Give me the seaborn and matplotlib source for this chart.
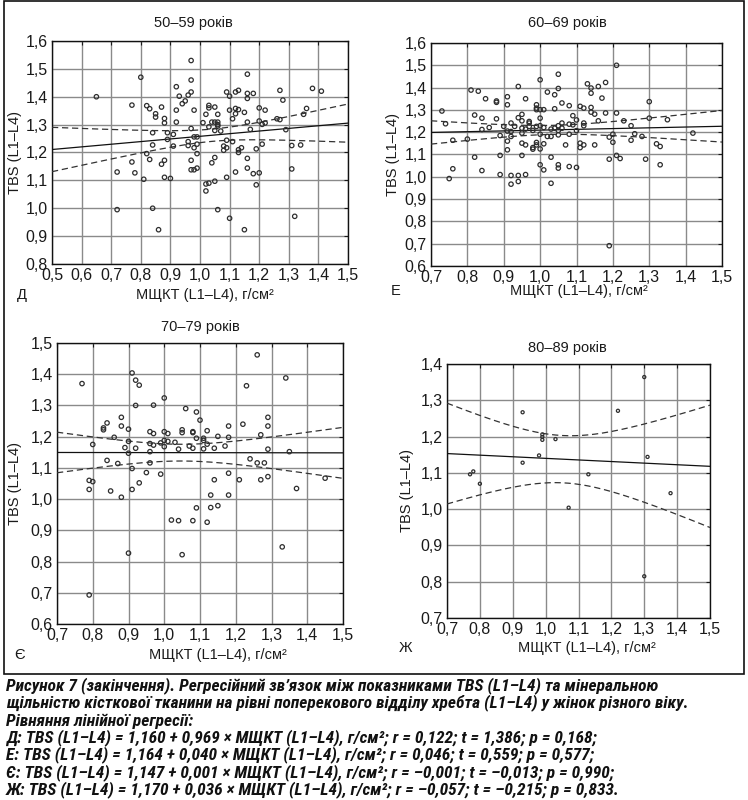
import numpy as np
import pandas as pd
import matplotlib
matplotlib.use("Agg")
import matplotlib.pyplot as plt
import seaborn as sns
from matplotlib.patches import Rectangle
from matplotlib.ticker import FuncFormatter, MultipleLocator

# ---------------- data ----------------
titles = ["50–59 років", "60–69 років", "70–79 років", "80–89 років"]
letters = ["Д", "Е", "Є", "Ж"]
xlabel = "МЩКТ (L1–L4), г/см²"
ylabel = "TBS (L1–L4)"

d_x = [0.65, 0.80, 0.77, 0.72, 0.72, 0.77, 0.78, 0.81, 0.82, 0.83, 0.85, 0.85, 0.84, 0.84, 0.82, 0.83,
       0.84, 0.86, 0.87, 0.88, 0.88, 0.87, 0.88, 0.88, 0.89, 0.89, 0.90, 0.91, 0.91, 0.92, 0.92, 0.92,
       0.93, 0.94, 0.95, 0.96, 0.97, 0.97, 0.97, 0.97, 0.96, 0.96, 0.97, 0.97, 0.98, 0.98, 0.98, 0.99,
       0.98, 0.99, 0.99, 0.99, 1.01, 1.02, 1.03, 1.03, 1.03, 1.04, 1.02, 1.03, 1.02, 1.04, 1.05, 1.05,
       1.05, 1.05, 1.05, 1.06, 1.06, 1.06, 1.06, 1.07, 1.06, 1.08, 1.08, 1.09, 1.09, 1.09, 1.09, 1.10,
       1.10, 1.11, 1.11, 1.10, 1.12, 1.13, 1.12, 1.13, 1.12, 1.13, 1.13, 1.14, 1.12, 1.15, 1.16, 1.16,
       1.16, 1.15, 1.16, 1.17, 1.16, 1.16, 1.18, 1.18, 1.19, 1.19, 1.20, 1.20, 1.20, 1.21, 1.21, 1.22,
       1.22, 1.26, 1.27, 1.27, 1.28, 1.29, 1.31, 1.31, 1.32, 1.34, 1.35, 1.36, 1.38, 1.41]
d_y = [1.400, 1.470, 1.370, 1.130, 0.995, 1.166, 1.127, 1.104, 1.368, 1.357, 1.339, 1.327, 1.271, 1.227, 1.196, 1.175,
       1.000, 0.923, 1.363, 1.322, 1.306, 1.158, 1.172, 1.111, 1.271, 1.247, 1.107, 1.265, 1.223, 1.436, 1.352, 1.309,
       1.402, 1.375, 1.385, 1.406, 1.417, 1.460, 1.530, 1.286, 1.239, 1.225, 1.172, 1.138, 1.138, 1.352, 1.256, 1.256,
       1.217, 1.230, 1.196, 1.144, 1.307, 1.337, 1.369, 1.360, 1.292, 1.309, 1.087, 1.090, 1.062, 1.163, 1.182, 1.097,
       1.363, 1.309, 1.279, 1.309, 1.337, 1.300, 1.295, 1.277, 0.995, 1.223, 1.208, 1.244, 1.217, 1.111, 1.417, 1.402,
       1.352, 1.321, 1.239, 0.964, 1.417, 1.423, 1.358, 1.354, 1.339, 1.210, 1.200, 1.217, 1.130, 0.923, 1.481, 1.412,
       1.394, 1.344, 1.309, 1.283, 1.179, 1.144, 1.412, 1.124, 1.213, 1.084, 1.360, 1.313, 1.127, 1.301, 1.230, 1.352,
       1.306, 1.321, 1.423, 1.318, 1.388, 1.282, 1.225, 1.141, 0.971, 1.227, 1.337, 1.358, 1.430, 1.420]

e_x = [0.73, 0.74, 0.76, 0.76, 0.75, 0.80, 0.81, 0.83, 0.82, 0.82, 0.84, 0.84, 0.84, 0.86, 0.85, 0.88,
       0.88, 0.88, 0.89, 0.89, 0.89, 0.90, 0.91, 0.91, 0.91, 0.91, 0.91, 0.92, 0.92, 0.92, 0.92, 0.92,
       0.93, 0.94, 0.94, 0.94, 0.94, 0.95, 0.95, 0.95, 0.95, 0.95, 0.95, 0.96, 0.96, 0.96, 0.96, 0.97,
       0.97, 0.97, 0.98, 0.98, 0.98, 0.99, 0.99, 0.99, 0.99, 0.99, 0.99, 1.00, 1.00, 1.00, 1.00, 1.00,
       1.00, 1.00, 1.01, 1.01, 1.01, 1.01, 1.02, 1.02, 1.03, 1.03, 1.03, 1.03, 1.04, 1.04, 1.04, 1.05,
       1.05, 1.05, 1.05, 1.05, 1.05, 1.05, 1.06, 1.06, 1.06, 1.07, 1.08, 1.08, 1.08, 1.08, 1.09, 1.09,
       1.10, 1.10, 1.10, 1.11, 1.11, 1.11, 1.12, 1.12, 1.12, 1.12, 1.13, 1.14, 1.14, 1.14, 1.14, 1.15,
       1.15, 1.16, 1.16, 1.17, 1.18, 1.18, 1.19, 1.19, 1.19, 1.20, 1.20, 1.21, 1.21, 1.21, 1.22, 1.23,
       1.25, 1.25, 1.26, 1.28, 1.29, 1.30, 1.30, 1.32, 1.33, 1.33, 1.35, 1.42]
e_y = [1.295, 1.238, 1.164, 1.036, 0.992, 1.169, 1.389, 1.384, 1.277, 1.088, 1.263, 1.212, 1.028, 1.221, 1.350, 1.340,
       1.334, 1.260, 1.185, 1.096, 1.010, 1.226, 1.359, 1.323, 1.205, 1.160, 1.121, 1.241, 1.203, 1.181, 1.006, 0.967,
       1.226, 1.405, 1.265, 1.006, 0.979, 1.280, 1.251, 1.218, 1.196, 1.151, 1.096, 1.350, 1.214, 1.143, 1.010, 1.248,
       1.241, 1.226, 1.124, 1.131, 1.208, 1.323, 1.308, 1.301, 1.226, 1.154, 1.143, 1.435, 1.263, 1.229, 1.191, 1.125,
       1.054, 1.301, 1.301, 1.221, 1.148, 1.031, 1.380, 1.181, 1.181, 1.214, 1.088, 0.971, 1.368, 1.305, 1.218, 1.460,
       1.396, 1.229, 1.208, 1.188, 1.054, 1.039, 1.331, 1.241, 1.218, 1.143, 1.319, 1.236, 1.191, 1.046, 1.274, 1.233,
       1.255, 1.207, 1.042, 1.316, 1.151, 1.131, 1.308, 1.241, 1.229, 1.143, 1.417, 1.398, 1.375, 1.311, 1.290, 1.281,
       1.143, 1.405, 1.251, 1.353, 1.423, 1.286, 1.178, 1.079, 0.691, 1.191, 1.155, 1.500, 1.286, 1.096, 1.082, 1.251,
       1.229, 1.164, 1.193, 1.181, 1.079, 1.337, 1.263, 1.148, 1.136, 1.054, 1.256, 1.196]

c_x = [0.77, 0.79, 0.79, 0.79, 0.80, 0.80, 0.83, 0.83, 0.84, 0.84, 0.86, 0.87, 0.85, 0.88, 0.88, 0.88,
       0.89, 0.90, 0.90, 0.90, 0.90, 0.91, 0.92, 0.93, 0.92, 0.92, 0.91, 0.91, 0.93, 0.95, 0.96, 0.96,
       0.96, 0.96, 0.97, 0.97, 0.97, 0.99, 0.99, 1.00, 1.00, 1.00, 1.00, 1.01, 1.01, 1.02, 1.03, 1.04,
       1.04, 1.05, 1.05, 1.05, 1.06, 1.07, 1.08, 1.08, 1.08, 1.08, 1.09, 1.09, 1.09, 1.10, 1.11, 1.11,
       1.11, 1.12, 1.12, 1.12, 1.13, 1.13, 1.14, 1.14, 1.15, 1.15, 1.17, 1.18, 1.18, 1.18, 1.18, 1.21,
       1.22, 1.23, 1.24, 1.26, 1.26, 1.27, 1.27, 1.28, 1.29, 1.29, 1.29, 1.29, 1.33, 1.34, 1.35, 1.37,
       1.45]
c_y = [1.370, 0.693, 1.060, 1.031, 1.175, 1.056, 1.228, 1.222, 1.244, 1.124, 1.198, 1.114, 1.026, 1.262, 1.234, 1.006,
       1.165, 1.224, 1.185, 1.147, 0.827, 1.404, 1.381, 1.365, 1.300, 1.163, 1.098, 1.031, 1.052, 1.085, 1.216, 1.178,
       1.152, 1.116, 1.301, 1.210, 1.173, 1.180, 1.080, 1.324, 1.216, 1.188, 1.168, 1.210, 1.185, 0.933, 1.182, 1.160,
       0.931, 1.222, 1.213, 0.822, 1.290, 1.170, 1.216, 1.213, 1.163, 0.931, 1.279, 1.195, 0.972, 1.253, 1.195, 1.188,
       1.161, 1.219, 1.176, 0.926, 1.013, 0.973, 1.163, 1.062, 1.201, 0.979, 1.170, 1.234, 1.198, 1.083, 1.013, 1.062,
       1.240, 1.363, 1.129, 1.462, 1.116, 1.206, 1.062, 1.116, 1.262, 1.234, 1.160, 1.072, 0.847, 1.388, 1.152, 1.034,
       1.067]

z_x = [0.77, 0.78, 0.80, 0.93, 0.93, 0.98, 0.99, 0.99, 0.99, 1.03, 1.07, 1.13, 1.22, 1.30, 1.30, 1.31, 1.38]
z_y = [1.096, 1.104, 1.070, 1.267, 1.128, 1.148, 1.206, 1.199, 1.191, 1.193, 1.004, 1.096, 1.271, 1.364, 0.815, 1.144, 1.044]

xlims = [(0.5, 1.5), (0.7, 1.5), (0.7, 1.5), (0.7, 1.5)]
ylims = [(0.8, 1.6), (0.6, 1.6), (0.6, 1.5), (0.7, 1.4)]

caption = [
    "Рисунок 7 (закінчення). Регресійний зв’язок між показниками TBS (L1–L4) та мінеральною",
    "щільністю кісткової тканини на рівні поперекового відділу хребта (L1–L4) у жінок різного віку.",
    "Рівняння лінійної регресії:",
    "Д: TBS (L1–L4) = 1,160 + 0,969 × МЩКТ (L1–L4), г/см²; r = 0,122; t = 1,386; p = 0,168;",
    "Е: TBS (L1–L4) = 1,164 + 0,040 × МЩКТ (L1–L4), г/см²; r = 0,046; t = 0,559; p = 0,577;",
    "Є: TBS (L1–L4) = 1,147 + 0,001 × МЩКТ (L1–L4), г/см²; r = –0,001; t = –0,013; p = 0,990;",
    "Ж: TBS (L1–L4) = 1,170 + 0,036 × МЩКТ (L1–L4), г/см²; r = –0,057; t = –0,215; p = 0,833.",
]

# ---------------- layout ----------------
W, H = 748, 800
def fx(px): return px / W
def fy(py): return 1 - py / H

sns.set_theme(style="white")
plt.rcParams['font.family'] = ['Liberation Sans', 'DejaVu Sans']

fig = plt.figure(figsize=(W / 100, H / 100), dpi=100)
fig.patch.set_facecolor("white")

boxes = [(52, 348, 41, 264), (431, 722, 43, 266), (57, 343, 343, 624), (447, 710, 364, 618)]
title_pos = [(193, 23), (567, 23), (200, 327), (567, 348)]
xlab_pos = [(205, 295), (579, 291), (218, 655), (587, 648)]
ylab_x = [15, 393, 15, 407]
letter_pos = [(22, 295), (396, 291), (20, 655), (406, 648)]
msizes = [10, 10, 10, 5]

datasets = [(d_x, d_y), (e_x, e_y), (c_x, c_y), (z_x, z_y)]
txtc = "#1a1a1a"

def tcrit(df):
    return 1.96 + 2.5 / df

for i, (xs, ys) in enumerate(datasets):
    l, r, t, b = boxes[i]
    ax = fig.add_axes([fx(l), fy(b), (r - l) / W, (b - t) / H])
    df = pd.DataFrame({"x": xs, "y": ys})
    # OLS fit with 95% confidence band of the mean
    x = np.asarray(xs, float); y = np.asarray(ys, float)
    n = len(x)
    slope, icpt = np.polyfit(x, y, 1)
    resid = y - (icpt + slope * x)
    s = np.sqrt(np.sum(resid ** 2) / (n - 2))
    sxx = np.sum((x - x.mean()) ** 2)
    gx = np.linspace(xlims[i][0], xlims[i][1], 200)
    gy = icpt + slope * gx
    se = s * np.sqrt(1 / n + (gx - x.mean()) ** 2 / sxx)
    tc = tcrit(n - 2)
    fit = pd.DataFrame({"x": gx, "fit": gy, "lo": gy - tc * se, "hi": gy + tc * se})

    ax.grid(True, color="#8a8a8a", linewidth=1.0)
    ax.set_axisbelow(True)
    sns.lineplot(data=fit, x="x", y="fit", ax=ax, color="#111111", linewidth=0.9, zorder=3)
    for col in ["lo", "hi"]:
        sns.lineplot(data=fit, x="x", y=col, ax=ax, color="#333333", linewidth=0.9,
                     zorder=3).lines[-1].set_dashes([5, 3])
    sns.scatterplot(data=df, x="x", y="y", ax=ax, s=msizes[i], facecolor="none",
                    edgecolor="#2e2e2e", linewidth=0.9, zorder=4)
    ax.set_xlim(*xlims[i]); ax.set_ylim(*ylims[i])
    ax.xaxis.set_major_locator(MultipleLocator(0.1))
    ax.yaxis.set_major_locator(MultipleLocator(0.1))
    fmt = FuncFormatter(lambda v, p: f"{v:.1f}".replace(".", ","))
    ax.xaxis.set_major_formatter(fmt); ax.yaxis.set_major_formatter(fmt)
    ax.tick_params(direction="in", length=3, width=0.8, labelsize=11.5, colors=txtc,
                   pad=3, top=True, right=True)
    ax.set_xlabel(""); ax.set_ylabel("")
    for sp in ax.spines.values():
        sp.set_color("#111111"); sp.set_linewidth(1.0); sp.set_visible(True)

    fig.text(fx(title_pos[i][0]), fy(title_pos[i][1]), titles[i], ha="center", va="center",
             fontsize=10.5, color=txtc)
    fig.text(fx(xlab_pos[i][0]), fy(xlab_pos[i][1]), xlabel, ha="center", va="center",
             fontsize=10.5, color=txtc)
    fig.text(fx(ylab_x[i]), fy((t + b) / 2), ylabel, ha="center", va="center",
             rotation=90, fontsize=10.5, color=txtc)
    fig.text(fx(letter_pos[i][0]), fy(letter_pos[i][1]), letters[i], ha="center", va="center",
             fontsize=10.5, color=txtc)

# outer frame
fig.patches.append(Rectangle((fx(4), fy(674)), (744 - 4) / W, (674 - 1) / H,
                             transform=fig.transFigure, fill=False, edgecolor="#111111",
                             linewidth=1.2))

# caption: text lines fitted to the widths seen in the reference
cap_family = ["Liberation Sans Narrow", "Roboto Condensed", "Roboto", "DejaVu Sans"]
cap_y = [686, 703, 721, 738, 755, 773, 790]
renderer = fig.canvas.get_renderer()

def fit_size(text, target_px, base=11):
    probe = fig.text(0, 0, text, fontsize=base, fontweight="bold", fontstyle="italic",
                     family=cap_family)
    w = probe.get_window_extent(renderer).width
    probe.remove()
    return base * target_px / w

fs_head = min(fit_size(caption[1], 712), 12.5)
fs_eq = min(fit_size(caption[6], 639), 12.5)
for k, (line, yy) in enumerate(zip(caption, cap_y)):
    fs = fs_head if k < 3 else fs_eq
    fig.text(fx(6), fy(yy), line, ha="left", va="center", fontsize=fs,
             fontweight="bold", fontstyle="italic", color="#111111", family=cap_family)

fig.savefig("out.png", dpi=100, facecolor="white")
